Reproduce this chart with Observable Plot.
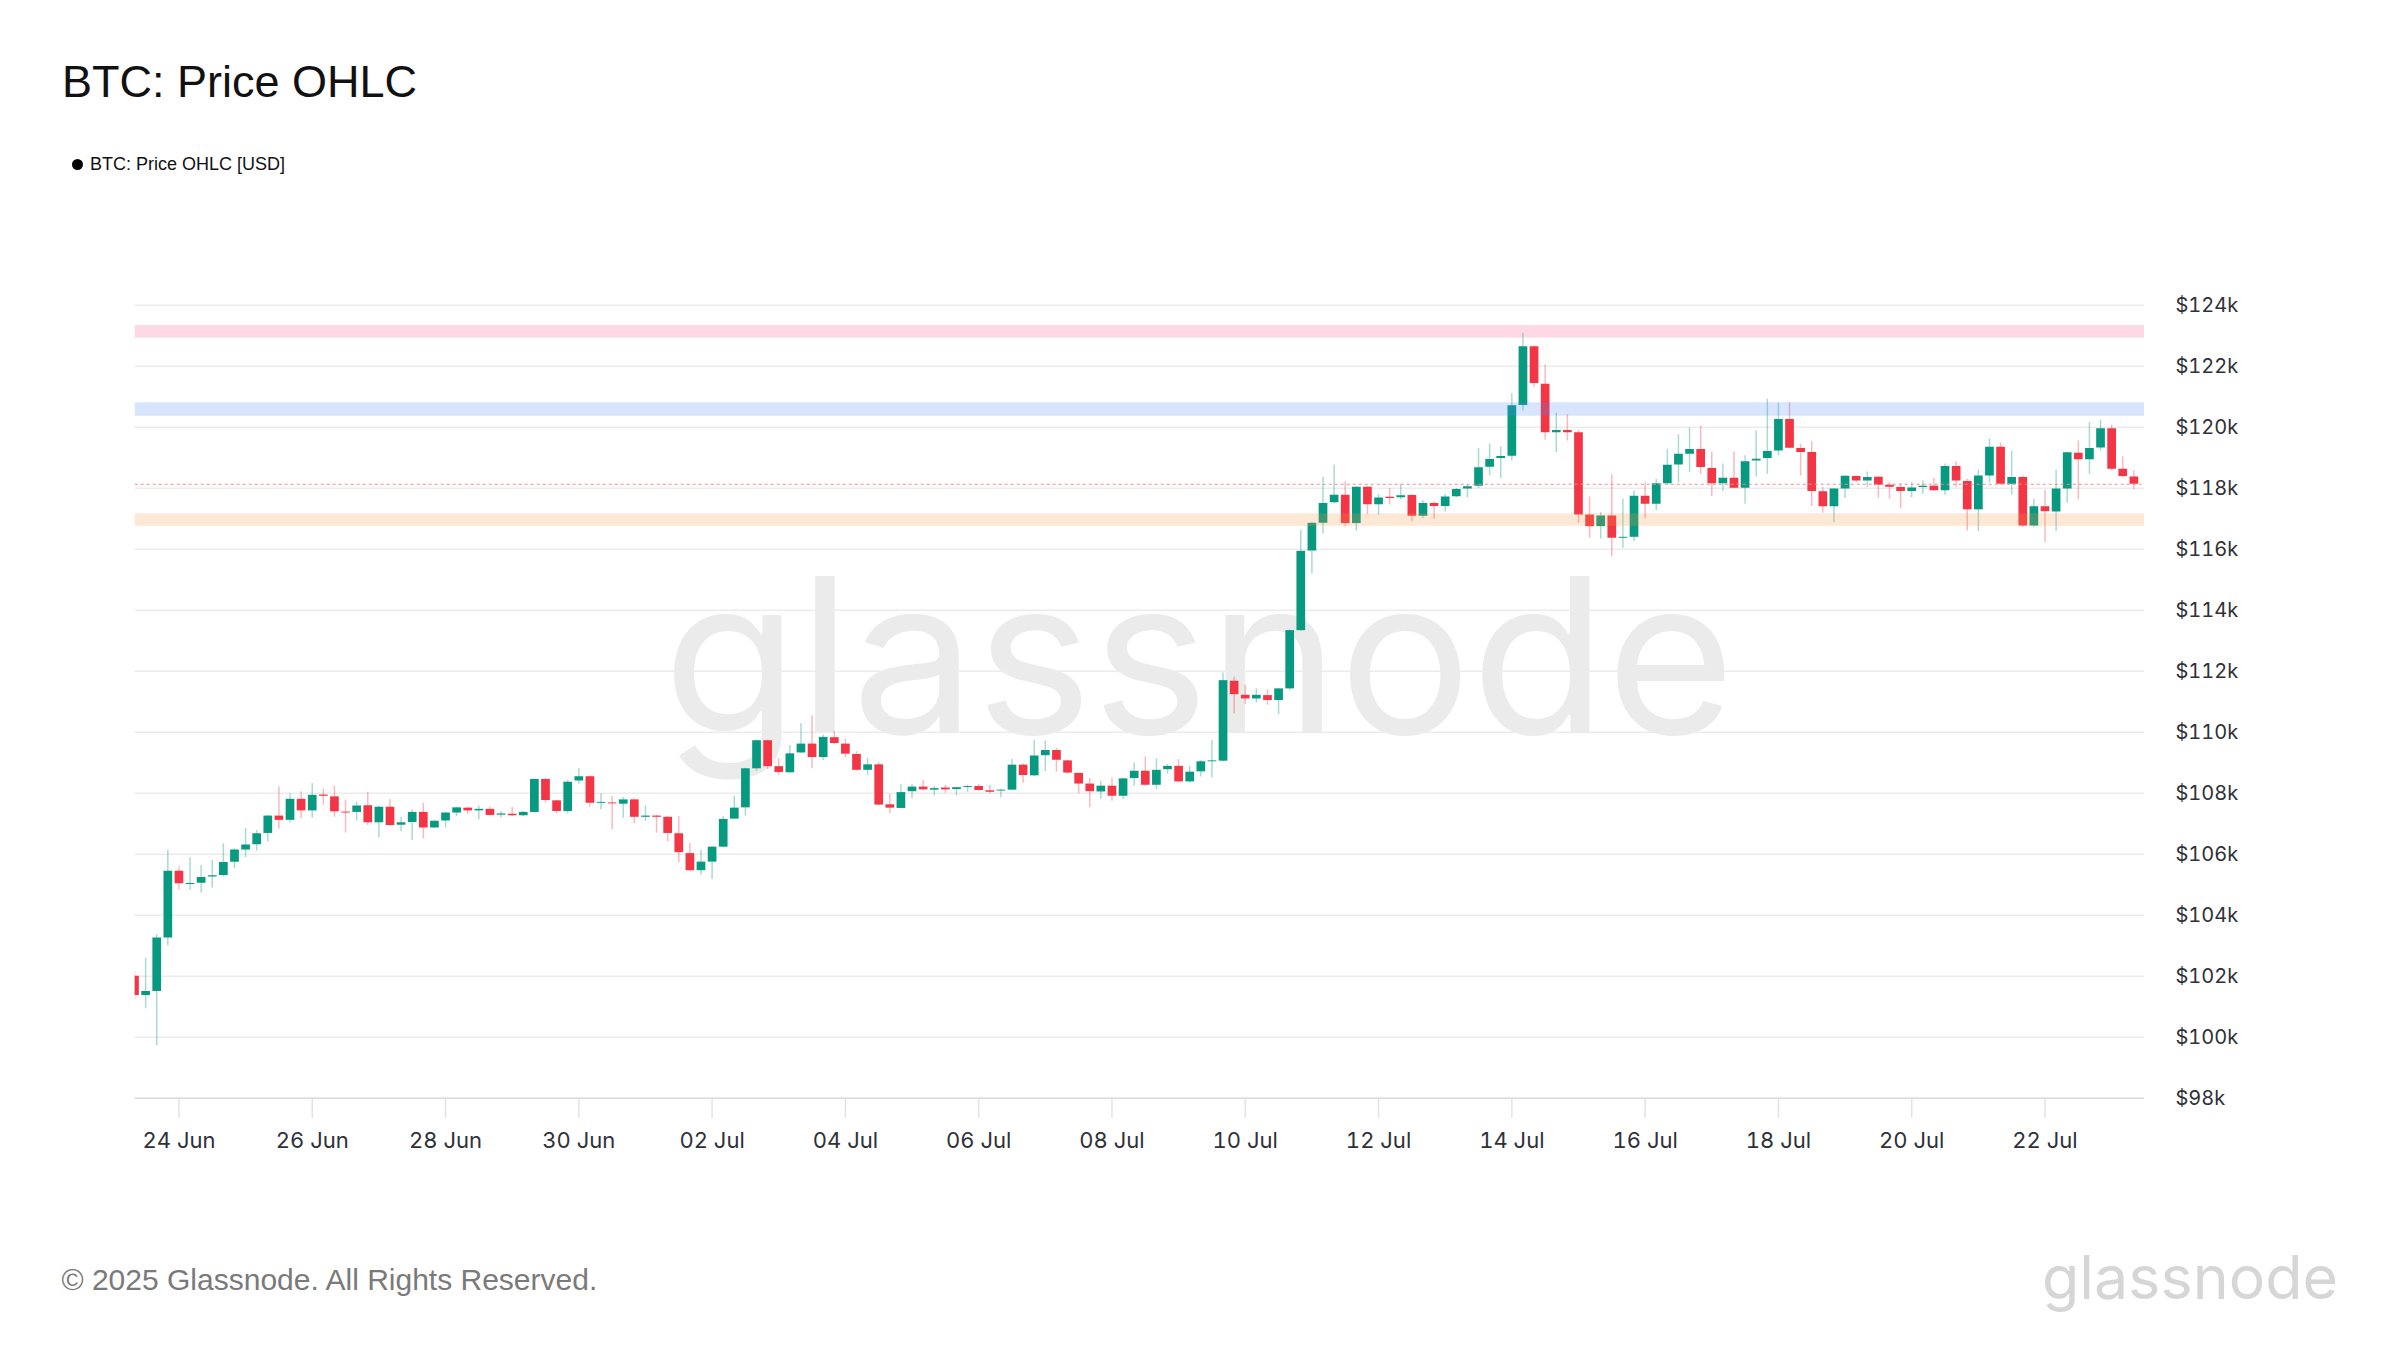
<!DOCTYPE html>
<html>
<head>
<meta charset="utf-8">
<script src="https://cdn.jsdelivr.net/npm/d3@7"></script>
<script src="https://cdn.jsdelivr.net/npm/@observablehq/plot@0.6"></script>
<style>
html,body{margin:0;padding:0;background:#fff;}
#page{position:relative;width:2400px;height:1350px;overflow:hidden;font-family:"Liberation Sans",Arial,sans-serif;background:#fff;}
#title{position:absolute;left:62px;top:59px;font-size:45px;line-height:45px;color:#111;white-space:nowrap;}
#legend{position:absolute;left:72px;top:154px;height:20px;display:flex;align-items:center;font-size:18px;color:#111;white-space:nowrap;}
#legend .dot{width:11px;height:11px;border-radius:50%;background:#000;margin-right:7px;}
#footer{position:absolute;left:61.5px;top:1265px;font-size:30px;line-height:30px;color:#7a7a7a;white-space:nowrap;}
#bg{position:absolute;left:0;top:0;z-index:0;}
#chart{position:absolute;left:0;top:250px;z-index:1;}
</style>
</head>
<body>
<div id="page">
  <svg id="bg" width="2400" height="1350">
    <text x="663" y="733" font-family="Inter, 'Open Sans', sans-serif" font-size="216" fill="#ebebeb" textLength="1072" lengthAdjust="spacingAndGlyphs">glassnode</text>
    <text x="2042" y="1299" font-family="Inter, 'Open Sans', sans-serif" font-size="60" fill="#d6d6d6" textLength="296" lengthAdjust="spacingAndGlyphs">glassnode</text>
  </svg>
  <div id="title">BTC: Price OHLC</div>
  <div id="legend"><span class="dot"></span><span>BTC: Price OHLC [USD]</span></div>
  <div id="chart"></div>
  <div id="footer">© 2025 Glassnode. All Rights Reserved.</div>
</div>
<script>
// 4-hour candles starting 23 Jun 2025 08:00 UTC
const startTime = "2025-06-23T08:00Z";
const open = [102000,101370,101500,103250,105440,105010,105050,105250,105300,105740,
106140,106310,106680,107250,107110,107800,107420,107940,107880,107380,
107370,107590,107030,107540,106950,107040,107370,106860,107090,107350,
107510,107420,107470,107280,107310,107260,107370,108450,107750,107400,
108400,108540,107670,107680,107640,107780,107210,107250,107210,106670,
106020,105460,105740,106230,107150,107520,108800,109720,108870,108670,
109320,109610,109170,109820,109610,109270,108750,108930,107620,107500,
108050,108200,108100,108170,108120,108190,108220,108080,108070,108100,
108920,108570,109230,109400,109060,108650,108300,108040,108230,107900,
108480,108720,108260,108770,108880,108370,108700,109030,109050,111670,
111210,111090,111200,111040,111420,113330,115940,116850,117520,117770,
116840,118030,117460,117700,117690,117760,117080,117500,117400,117720,
117970,118060,118690,118970,119050,120710,122640,121410,119820,119890,
119820,117120,116740,117090,116360,116390,117740,117470,118150,118760,
119110,119270,118650,118150,118330,118000,118890,118970,119220,120250,
119300,119170,117880,117390,117970,118380,118240,118360,118100,118020,
117890,118020,118060,117920,118710,118220,117290,118400,119340,118130,
118350,116760,117390,117220,117970,119150,118930,119320,119950,118620,
118370];
const high = [102150,102590,103360,106130,105580,105880,105630,105790,106340,106180,
106840,106780,107270,108200,107980,108050,108320,108140,108230,107780,
107710,108020,107560,107790,107210,107460,107670,107100,107370,107540,
107540,107580,107540,107400,107540,107400,108460,108490,107760,108420,
108800,108560,107980,107890,107860,107810,107590,107270,107240,107240,
106360,106140,106250,107240,107900,108820,109750,109730,109130,109560,
110280,110530,109910,110020,109760,109360,109140,109000,107960,108280,
108290,108420,108220,108260,108200,108260,108290,108250,108120,109110,
108960,109730,109710,109470,109070,108650,108480,108390,108500,108500,
108990,109180,109130,108940,109100,108880,109080,109730,111940,111800,
111540,111420,111390,111430,113350,116620,116870,118360,118750,118210,
118050,118050,117790,117990,118120,117790,117590,117550,117790,117990,
118100,119300,119450,119350,121100,123080,122670,122040,120460,120420,
119900,117710,117200,118440,117640,117910,118180,118290,119280,119750,
119970,120030,119190,118790,119190,119060,119880,120920,120790,120810,
119440,119520,118020,117990,118410,118400,118530,118380,118180,118150,
118180,118240,118330,118790,118870,118290,118600,119610,119470,119220,
118400,117640,117930,118590,119180,119550,120150,120240,120070,119030,
118570];
const low = [101220,100930,99730,102990,104830,104810,104720,104890,105250,105520,
105880,106100,106400,106830,107020,107160,107180,107600,107210,106690,
107080,106940,106540,106910,106740,106450,106500,106840,106860,107240,
107300,107130,107250,107190,107240,107240,107350,107670,107320,107320,
108290,107540,107460,106800,107180,107000,107080,106690,106400,105720,
105430,105320,105180,106210,107150,107250,108720,108770,108600,108640,
109300,108800,109070,109590,109160,108720,108580,107590,107320,107480,
107820,108090,107910,108000,107910,108030,108070,107970,107840,108080,
108330,108550,108710,108690,108620,107980,107520,107790,107740,107790,
108230,108230,108120,108630,108340,108340,108530,108500,109030,110600,
110910,110960,110880,110580,111360,113310,115190,116500,117500,116720,
116590,117130,117110,117460,117620,116890,117000,116970,117220,117680,
117680,117990,118410,118310,118890,120530,121300,119570,119170,119550,
116840,116360,116330,115750,116020,116250,117010,117260,118130,118180,
118510,118460,117730,117890,117990,117470,118370,118460,119060,119290,
118400,117400,117180,116870,117660,118180,118020,117670,117640,117330,
117690,117800,117890,117770,118020,116600,116580,118180,118110,117780,
116710,116700,116220,116580,117510,117620,118460,119220,118570,118350,
117940];
const close = [101370,101500,103250,105440,105030,105040,105240,105290,105730,106140,
106300,106670,107250,107110,107800,107420,107930,107900,107390,107350,
107580,107030,107540,106940,107030,107370,106860,107080,107350,107520,
107420,107470,107270,107320,107260,107370,108450,107760,107400,108360,
108540,107670,107700,107650,107780,107210,107250,107210,106680,106050,
105460,105740,106230,107140,107510,108800,109720,108870,108680,109290,
109610,109170,109830,109630,109280,108750,108930,107610,107510,108020,
108200,108110,108150,108110,108180,108220,108090,108030,108100,108920,
108580,109220,109400,109080,108660,108300,108050,108230,107900,108470,
108720,108260,108750,108880,108370,108690,109030,109060,111690,111230,
111090,111210,111040,111420,113330,115930,116850,117500,117770,116840,
118030,117460,117680,117660,117750,117080,117500,117400,117710,117960,
118050,118670,118940,119040,120700,122640,121430,119820,119890,119820,
117120,116740,117090,116360,116390,117740,117470,118150,118750,119110,
119270,118680,118150,118330,118000,118870,118950,119200,120250,119310,
119170,117890,117390,117970,118390,118240,118350,118100,118030,117890,
118010,118060,117920,118710,118240,117290,118400,119340,118130,118350,
116760,117390,117230,117970,119160,118930,119300,119950,118620,118380,
118130];

// horizontal zones
const bandLow  = [122920, 120360, 116750];
const bandHigh = [123330, 120800, 117160];
const bandColor = ["#ff4e8d", "#4e89ff", "#f69745"];

// axis ticks
const yTicks = [98000,100000,102000,104000,106000,108000,110000,112000,114000,116000,118000,120000,122000,124000];
const xTickDates = ["2025-06-24","2025-06-26","2025-06-28","2025-06-30","2025-07-02","2025-07-04","2025-07-06","2025-07-08","2025-07-10","2025-07-12","2025-07-14","2025-07-16","2025-07-18","2025-07-20","2025-07-22"];
const xDomain = ["2025-06-23T08:15Z", "2025-07-23T11:50Z"];

const UP = "#089981", DOWN = "#f23645";
const t0 = new Date(startTime).getTime();
const candles = open.map((o, i) => ({
  date: new Date(t0 + i * 4 * 3600 * 1000),
  open: o, high: high[i], low: low[i], close: close[i],
  color: close[i] >= o ? UP : DOWN
}));
const bands = bandLow.map((lo, i) => ({lo, hi: bandHigh[i], color: bandColor[i]}));
const lastClose = close[close.length - 1];

const chart = Plot.plot({
  width: 2400,
  height: 920,
  marginLeft: 134.7,
  marginRight: 256,
  marginTop: 54.7,
  marginBottom: 72.3,
  style: {background: "transparent", fontFamily: "Inter, Roboto, sans-serif", color: "#2e3138", overflow: "visible"},
  x: {type: "utc", domain: xDomain.map(d => new Date(d))},
  y: {domain: [98000, 124000]},
  color: {type: "identity"},
  marks: [
    Plot.ruleY(yTicks, {stroke: "#ececec", strokeWidth: 1.5}),
    Plot.ruleY([98000], {stroke: "#dddddd", strokeWidth: 1.5}),
    Plot.ruleX(candles, {x: "date", y1: "low", y2: "high", stroke: "color", strokeOpacity: 0.35, strokeWidth: 1.5, clip: true}),
    Plot.ruleX(candles, {x: "date", y1: "open", y2: "close", stroke: "color", strokeWidth: 8.7, clip: true}),
    Plot.rect(bands, {y1: "lo", y2: "hi", fill: "color", fillOpacity: 0.22}),
    Plot.ruleY([lastClose], {stroke: "#f08a93", strokeWidth: 1.2, strokeDasharray: "3,3"}),
    Plot.axisY({anchor: "right", ticks: yTicks, tickFormat: d => `$${d / 1000}k`, tickSize: 0, tickPadding: 31, fontSize: 20, label: null}),
    Plot.axisX({ticks: xTickDates.map(d => new Date(d + "T00:00Z")), tickFormat: d3.utcFormat("%d %b"), tickSize: 20, tickPadding: 13.7, stroke: "#e3e3e3", strokeWidth: 1.5, fontSize: 22, label: null})
  ]
});
document.getElementById("chart").appendChild(chart);
</script>
</body>
</html>
